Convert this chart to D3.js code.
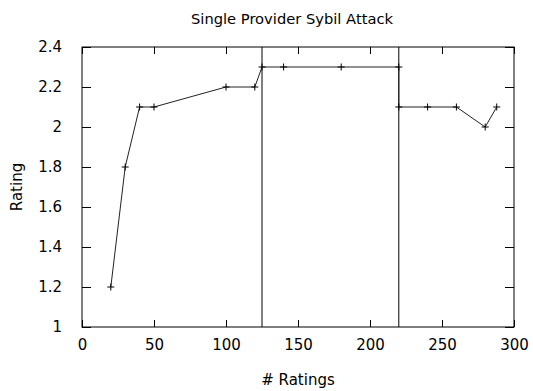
<!DOCTYPE html>
<html>
<head>
<meta charset="utf-8">
<script src="https://cdn.jsdelivr.net/npm/d3@7"></script>
<style>
  body { margin: 0; background: #fff; }
  text { font-family: "DejaVu Sans", Verdana, sans-serif; fill: #000; }
</style>
</head>
<body>
<div id="chart"></div>
<script>
// rating over number of ratings
var ratingsCount = [20, 30, 40, 50, 100, 120, 125, 140, 180, 220, 220, 240, 260, 280, 288];
var ratingValue = [1.2, 1.8, 2.1, 2.1, 2.2, 2.2, 2.3, 2.3, 2.3, 2.3, 2.1, 2.1, 2.1, 2.0, 2.1];
// vertical marker lines
var markerX = [125, 220];
var xTicks = [0, 50, 100, 150, 200, 250, 300];
var yTicks = [1, 1.2, 1.4, 1.6, 1.8, 2, 2.2, 2.4];

var width = 533, height = 391;
var margin = {top: 47, right: 19, bottom: 64, left: 82};
var w = width - margin.left - margin.right,
    h = height - margin.top - margin.bottom;

var svg = d3.select('#chart').append('svg')
    .attr('width', width)
    .attr('height', height);

var g = svg.append('g')
    .attr('transform', 'translate(' + margin.left + ',' + margin.top + ')');

var x = d3.scaleLinear().domain([0, 300]).range([0, w]);
var y = d3.scaleLinear().domain([1, 2.4]).range([h, 0]);

// ticks on all four sides, pointing inwards
var xt = 7, yt = 9;
g.append('g').attr('transform', 'translate(0,' + h + ')')
    .call(d3.axisBottom(x).tickValues(xTicks).tickSizeInner(-xt).tickSizeOuter(0).tickPadding(12))
    .call(function(s) { s.select('.domain').remove(); });
g.append('g')
    .call(d3.axisTop(x).tickValues(xTicks).tickSizeInner(-xt).tickSizeOuter(0).tickFormat(''))
    .call(function(s) { s.select('.domain').remove(); });
g.append('g')
    .call(d3.axisLeft(y).tickValues(yTicks).tickSizeInner(-yt).tickSizeOuter(0).tickPadding(20)
      .tickFormat(function(d) { return d3.format('~g')(d); }))
    .call(function(s) { s.select('.domain').remove(); });
g.append('g').attr('transform', 'translate(' + w + ',0)')
    .call(d3.axisRight(y).tickValues(yTicks).tickSizeInner(-yt).tickSizeOuter(0).tickFormat(''))
    .call(function(s) { s.select('.domain').remove(); });

g.selectAll('.tick line').attr('stroke', '#000');
g.selectAll('.tick text')
    .style('font-size', '15px')
    .style('font-family', '"DejaVu Sans", Verdana, sans-serif');

// border
g.append('rect')
    .attr('width', w).attr('height', h)
    .attr('fill', 'none').attr('stroke', '#000').attr('stroke-width', 1);

// vertical marker lines
g.selectAll('.marker')
  .data(markerX)
  .enter()
  .append('line')
    .attr('x1', function(d) { return x(d); })
    .attr('x2', function(d) { return x(d); })
    .attr('y1', 0).attr('y2', h)
    .attr('stroke', '#000');

var data = ratingsCount.map(function(d, i) { return {n: d, r: ratingValue[i]}; });

var line = d3.line()
    .x(function(d) { return x(d.n); })
    .y(function(d) { return y(d.r); });

g.append('path')
    .datum(data)
    .attr('d', line)
    .attr('fill', 'none')
    .attr('stroke', '#222')
    .attr('stroke-width', 1);

// plus markers
var pts = g.selectAll('.pt')
  .data(data)
  .enter()
  .append('path')
    .attr('transform', function(d) { return 'translate(' + x(d.n) + ',' + y(d.r) + ')'; })
    .attr('d', 'M-3.5,0H3.5M0,-3.5V3.5')
    .attr('stroke', '#000')
    .attr('stroke-width', 1);

svg.append('text')
    .attr('x', 292).attr('y', 24)
    .attr('text-anchor', 'middle')
    .style('font-size', '14.7px')
    .text('Single Provider Sybil Attack');

svg.append('text')
    .attr('x', margin.left + w / 2).attr('y', 385)
    .attr('text-anchor', 'middle')
    .style('font-size', '15px')
    .text('# Ratings');

svg.append('text')
    .attr('transform', 'translate(22,' + (margin.top + h / 2) + ') rotate(-90)')
    .attr('text-anchor', 'middle')
    .style('font-size', '15px')
    .text('Rating');
</script>
</body>
</html>
